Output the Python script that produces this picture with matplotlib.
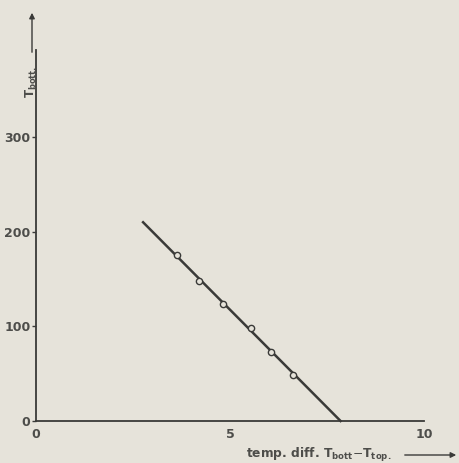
import matplotlib
matplotlib.use("Agg")
import matplotlib.pyplot as plt

# data
meas_x = [3.63, 4.21, 4.82, 5.53, 6.06, 6.63]
meas_y = [175, 148, 124, 98.5, 73, 49]
fit_x = [2.76, 7.85]
fit_y = [210, 0]
xticks = [0, 5, 10]
yticks = [0, 100, 200, 300]

bg = "#e6e3da"
ink = "#3a3a38"
txt = "#4d4d4a"

fig = plt.figure(figsize=(4.6, 4.63), dpi=100, facecolor=bg)
W, H = 460, 463
ax = fig.add_axes([36 / W, (H - 421) / H, (424 - 36) / W, (421 - 50) / H])
ax.set_facecolor(bg)
ax.set_xlim(0, 10)
ax.set_ylim(0, 392)
for s in ["top", "right"]:
    ax.spines[s].set_visible(False)
for s in ["left", "bottom"]:
    ax.spines[s].set_color(ink)
    ax.spines[s].set_linewidth(1.3)

ax.plot(fit_x, fit_y, color=ink, lw=1.8, zorder=2, clip_on=False)
ax.plot(meas_x, meas_y, linestyle="none", marker="o", markersize=4.5,
        markerfacecolor=bg, markeredgecolor=ink, markeredgewidth=1.0, zorder=3)

ax.set_xticks(xticks)
ax.set_xticklabels([str(v) for v in xticks])
ax.set_yticks(yticks)
ax.set_yticklabels([str(v) for v in yticks])
ax.tick_params(axis="y", direction="out", length=3, width=1.0, color=ink,
               labelsize=9, labelcolor=txt, pad=1)
ax.tick_params(axis="x", direction="out", length=0, labelsize=9,
               labelcolor=txt, pad=5)
for lab in ax.get_xticklabels() + ax.get_yticklabels():
    lab.set_fontweight("bold")

# y label with arrow
fig.text(31 / W, 1 - 82 / H, r"T$_{\mathbf{bott.}}$", rotation=90, ha="center",
         va="center", fontsize=8.5, color=txt, fontweight="bold")
fig.add_artist(matplotlib.patches.FancyArrowPatch(
    (32 / W, 1 - 55 / H), (32 / W, 1 - 10 / H), transform=fig.transFigure,
    arrowstyle="-|>", mutation_scale=8, color=ink, lw=1.0))

# x label with arrow
fig.text(319 / W, 1 - 455 / H, r"temp. diff. T$_{\mathbf{bott}}$$-$T$_{\mathbf{top.}}$",
         ha="center", va="center", fontsize=8.8, color=txt, fontweight="bold")
fig.add_artist(matplotlib.patches.FancyArrowPatch(
    (402 / W, 1 - 455 / H), (459 / W, 1 - 455 / H), transform=fig.transFigure,
    arrowstyle="-|>", mutation_scale=8, color=ink, lw=1.0))

fig.savefig("out.png", dpi=100, facecolor=bg)
